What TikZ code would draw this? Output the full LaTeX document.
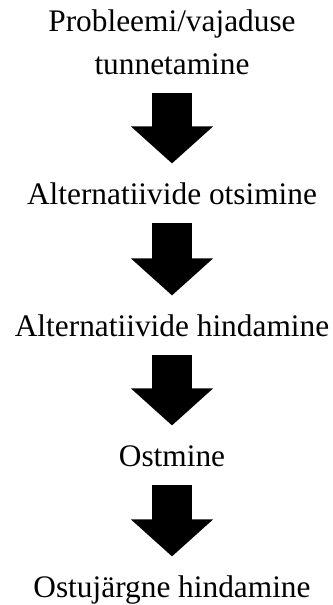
\documentclass[tikz,border=0pt]{standalone}
\usepackage{fontspec}
\setmainfont{Liberation Serif}
\usepackage{tikz}
\usetikzlibrary{arrows.meta,positioning}

\tikzset{
    stage/.style={
        inner sep=0pt,
        text height=0.525cm,
        text depth=0pt,
        align=center,
        font=\fontsize{22.3}{30.6}\selectfont
    },
    bigarrow/.style={
        line width=1cm,
        -{Triangle[length=0.925cm,width=2cm]},
        shorten <=0.45cm,
        shorten >=0.5cm
    }
}

\begin{document}
\begin{tikzpicture}
                \useasboundingbox (0,0) rectangle (8.3,-15.125);

                \node[stage, anchor=south] (tunnetamine) at (4.3,-1.875) {Probleemi/vajaduse\\tunnetamine};
                \node[stage, anchor=south] (otsimine) at (4.3,-5.125) {Alternatiivide otsimine};
                \node[stage, anchor=south] (hindamine) at (4.3,-8.425) {Alternatiivide hindamine};
                \node[stage, anchor=south] (ostmine) at (4.3,-11.675) {Ostmine};
                \node[stage, anchor=south] (jarel) at (4.3,-14.95) {Ostujärgne hindamine};

                \draw[bigarrow] (tunnetamine.south) to (otsimine.north);
                \draw[bigarrow] (otsimine.south) to (hindamine.north);
                \draw[bigarrow] (hindamine.south) to (ostmine.north);
                \draw[bigarrow] (ostmine.south) to (jarel.north);

\end{tikzpicture}
\end{document}
